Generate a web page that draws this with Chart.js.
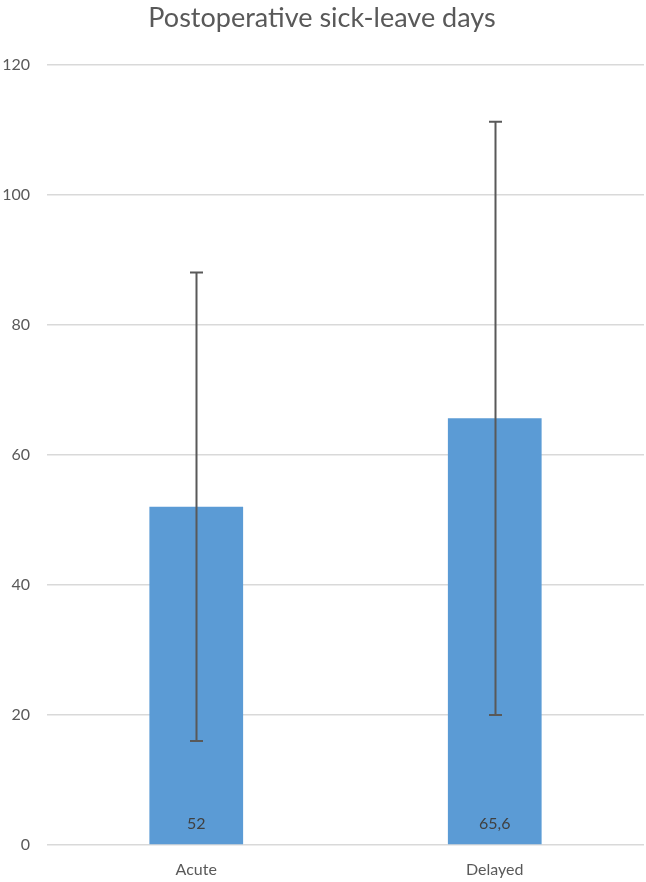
<!DOCTYPE html>
<html>
<head>
<meta charset="utf-8">
<script src="https://cdn.jsdelivr.net/npm/chart.js@4/dist/chart.umd.min.js"></script>
<style>
  html, body { margin: 0; padding: 0; background: #fff; }
  #wrap { width: 646px; height: 882px; }
</style>
</head>
<body>
<div id="wrap"><canvas id="barChart"></canvas></div>
<script>
// data
var categories = ["Acute", "Delayed"];
var meanDays = [52, 65.6];
var sdDays = [36, 45.6];
var valueLabels = ["52", "65,6"];
var yTicks = [0, 20, 40, 60, 80, 100, 120];

var textColor = "#595959";
var fontFamily = "Lato, 'Open Sans', sans-serif";

// error bars drawn in data space through the y scale
var errorBars = {
  id: "errorBars",
  afterDatasetsDraw: function (chart) {
    var ctx = chart.ctx;
    var y = chart.scales.y;
    var meta = chart.getDatasetMeta(0);
    ctx.save();
    ctx.strokeStyle = "#595959";
    ctx.lineWidth = 2;
    meta.data.forEach(function (bar, i) {
      var top = y.getPixelForValue(meanDays[i] + sdDays[i]);
      var bottom = y.getPixelForValue(meanDays[i] - sdDays[i]);
      var x = Math.round(bar.x) + 0.5;
      ctx.beginPath();
      ctx.moveTo(x, top);
      ctx.lineTo(x, bottom);
      ctx.moveTo(x - 6.5, top);
      ctx.lineTo(x + 6.5, top);
      ctx.moveTo(x - 6.5, bottom);
      ctx.lineTo(x + 6.5, bottom);
      ctx.stroke();
    });
    ctx.restore();
  }
};

// value labels at the base of each bar
var barLabels = {
  id: "barLabels",
  afterDraw: function (chart) {
    var ctx = chart.ctx;
    var y = chart.scales.y;
    var meta = chart.getDatasetMeta(0);
    ctx.save();
    ctx.fillStyle = "#404040";
    ctx.font = "16px " + fontFamily;
    ctx.textAlign = "center";
    ctx.textBaseline = "middle";
    meta.data.forEach(function (bar, i) {
      ctx.fillText(valueLabels[i], bar.x, y.getPixelForValue(0) - 21);
    });
    ctx.restore();
  }
};

var ctx = document.getElementById("barChart").getContext("2d");
var barChart = new Chart(ctx, {
  type: "bar",
  data: {
    labels: categories,
    datasets: [
      {
        label: "Sick-leave days",
        data: meanDays,
        backgroundColor: "#5B9BD5",
        borderWidth: 0,
        categoryPercentage: 1,
        barPercentage: 0.314,
      },
    ],
  },
  options: {
    responsive: true,
    maintainAspectRatio: false,
    animation: false,
    layout: { padding: { left: 0, right: 2, top: 0, bottom: 0 } },
    plugins: {
      legend: { display: false },
      tooltip: { enabled: false },
      title: {
        display: true,
        text: "Postoperative sick-leave days",
        color: textColor,
        font: { family: fontFamily, size: 27, weight: "normal" },
        padding: { top: 2, bottom: 30 },
      },
    },
    scales: {
      x: {
        grid: { display: false, drawTicks: false },
        border: { display: false },
        afterFit: function (scale) { scale.height = 37; },
        ticks: {
          color: textColor,
          font: { family: fontFamily, size: 16 },
          padding: 15,
        },
      },
      y: {
        min: 0,
        max: 120,
        afterBuildTicks: function (scale) {
          scale.ticks = yTicks.map(function (v) { return { value: v }; });
        },
        afterFit: function (scale) { scale.width = 47; },
        grid: { color: "#D9D9D9", lineWidth: 1.5, drawTicks: false },
        border: { display: false },
        ticks: {
          color: textColor,
          font: { family: fontFamily, size: 16 },
          padding: 17,
        },
      },
    },
  },
  plugins: [errorBars, barLabels],
});
</script>
</body>
</html>
